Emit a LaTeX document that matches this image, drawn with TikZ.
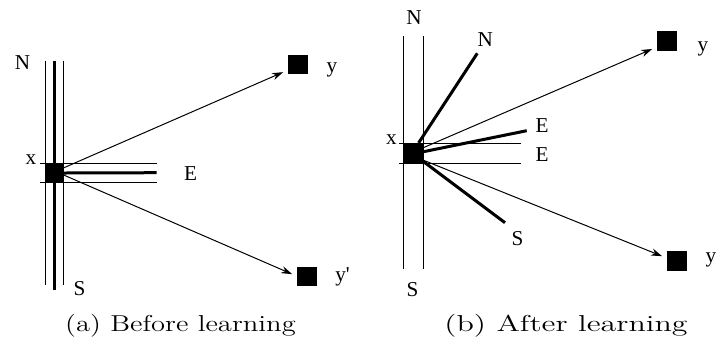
\documentclass[tikz,border=0pt]{standalone}
\usepackage{fontspec}
\usepackage{graphicx}
\newfontfamily\tms{Liberation Serif}
\usetikzlibrary{arrows.meta}
\begin{document}
\begin{tikzpicture}[x=0.5pt,y=-0.5pt,
  tline/.style={line width=0.5pt},
  kline/.style={line width=1.5pt},
  arr/.style={line width=0.5pt,-{Stealth[length=5.5pt,width=3.6pt]},shorten >=2.6pt},
  blk/.style={fill=black,inner sep=0pt,minimum size=#1},
  lbl/.style={font=\tms\fontsize{10.6}{13}\selectfont,anchor=base,inner sep=0pt},
  captxt/.style={font=\fontsize{11.5}{13}\selectfont,anchor=base,inner sep=0pt}]
\useasboundingbox (0,0) rectangle (717,344);

% ---------- (a) Before learning ----------
\draw[tline] (45,60.7) -- (45,285);
\draw[tline] (63.3,60.7) -- (63.3,285);
\draw[tline] (40,163.3) -- (156.7,163.3);
\draw[tline] (40,182.7) -- (156.7,182.7);
\draw[kline] (54,60.7) -- (54,290);
\node[blk=9.5pt] (xa) at (54,173) {};
\coordinate (ea) at (156.7,172.7);
\draw[kline] (xa.east) -- (ea);
\node[blk=9.7pt] (ya) at (298,64.7) {};
\node[blk=9.7pt] (ypa) at (307,276.2) {};
\draw[arr] (xa.28) -- (ya.208);
\draw[arr] (xa.-12) -- (ypa.west);
\node[lbl] (na) at (22.5,69.3) {N};
\node[lbl] (exa) at (190.5,180) {E};
\node[lbl] (sa) at (79.5,295) {S};
\node[lbl] (xla) at (31,164) {x};
\node[lbl] (yla) at (332,72.5) {y};
\node[lbl] (ypla) at (342.5,281) {y'};
\node[captxt] (capa) at (180.5,331.5) {\scalebox{1.243}[1]{(a) Before learning}};

% ---------- (b) After learning ----------
\draw[tline] (403.3,36) -- (403.3,269.3);
\draw[tline] (423.3,36) -- (423.3,269.3);
\draw[tline] (399.3,143.3) -- (521,143.3);
\draw[tline] (399.3,163.3) -- (521,163.3);
\node[blk=10pt] (xb) at (413.3,153.3) {};
\coordinate (nb) at (477.3,53.3);
\coordinate (eb) at (526.7,130.7);
\coordinate (sb) at (505,222.7);
\draw[kline] (xb.63) -- (nb);
\draw[kline] (xb.9) -- (eb);
\draw[kline] (xb.-39) -- (sb);
\node[blk=10pt] (yb) at (667.3,40.7) {};
\node[blk=10pt] (ypb) at (677.3,260.7) {};
\draw[arr] (xb.29) -- (yb.211);
\draw[arr] (xb.-34) -- (ypb.166);
\node[lbl] (nbt) at (414,24) {N};
\node[lbl] (nbk) at (485.3,46) {N};
\node[lbl] (ebk) at (542,132.7) {E};
\node[lbl] (ebt) at (542,161.7) {E};
\node[lbl] (sbk) at (517.5,245) {S};
\node[lbl] (sbt) at (412.5,296) {S};
\node[lbl] (xlb) at (391.3,144) {x};
\node[lbl] (ylb) at (702.8,51) {y};
\node[lbl] (yplb) at (711,262.5) {y};
\node[captxt] (capb) at (566,331.5) {\scalebox{1.388}[1]{(b) After learning}};
\end{tikzpicture}
\end{document}
